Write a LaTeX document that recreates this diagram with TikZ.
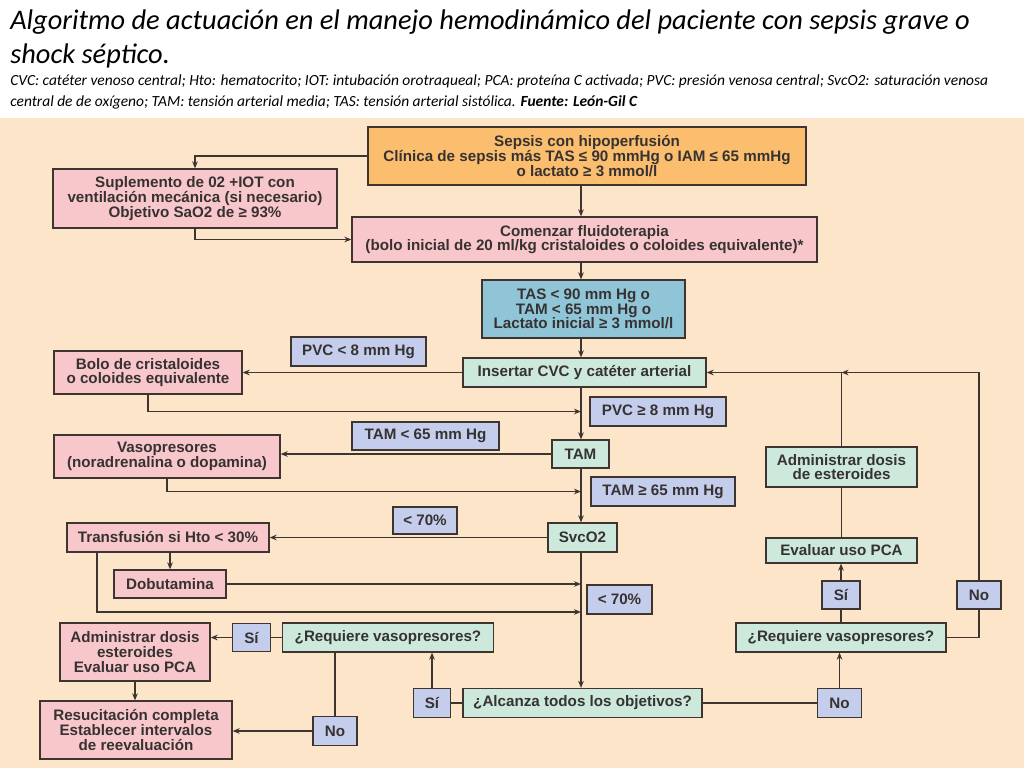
\documentclass[tikz,border=0pt]{standalone}
\usepackage{fontspec}
\setmainfont{Liberation Sans}
\newfontfamily\titlefont{Carlito}
\usepackage{tikz}
\usetikzlibrary{arrows.meta, positioning}
\definecolor{bgpeach}{RGB}{253,229,202}
\definecolor{sepsisorange}{RGB}{251,190,110}
\definecolor{pinkfill}{RGB}{248,199,204}
\definecolor{tasblue}{RGB}{143,197,214}
\definecolor{tagfill}{RGB}{197,205,236}
\definecolor{mintfill}{RGB}{204,233,220}
\definecolor{boxline}{RGB}{62,52,48}
\definecolor{boxtext}{RGB}{55,50,50}
\newcommand\boxfont{\fontsize{10.8}{10.4}\selectfont\bfseries}

\begin{document}
\begin{tikzpicture}[
  x=0.025cm, y=-0.025cm,
  box/.style={
    rectangle, draw=boxline, line width=0.9pt,
    text=boxtext, font=\boxfont, align=center, inner sep=0pt
  },
  dims/.style 2 args={minimum width=#1*0.025cm, minimum height=#2*0.025cm},
  pinkbox/.style={box, fill=pinkfill},
  mintbox/.style={box, fill=mintfill},
  tagbox/.style={box, fill=tagfill},
  arrow/.style={-{Stealth[length=5pt,width=4pt]}, line width=0.9pt, boxline},
  link/.style={line width=0.9pt, boxline},
  heading/.style={anchor=base west, inner sep=0pt, text=black}
]
\useasboundingbox (0,0) rectangle (1024,768);
\fill[white] (0,0) rectangle (1024,768);
\fill[bgpeach] (0,118) rectangle (1024,768);

% title and abbreviations
\node[heading, font={\titlefont\fontsize{20.2}{24}\selectfont\itshape}] (title1) at (10,30)
  {Algoritmo de actuación en el manejo hemodinámico del paciente con sepsis grave o};
\node[heading, font={\titlefont\fontsize{20.2}{24}\selectfont\itshape}] (title2) at (10,64)
  {shock séptico.};
\node[heading, font={\titlefont\fontsize{11}{14}\selectfont\itshape}] (abbr1) at (10,86)
  {CVC: catéter venoso central; Hto: hematocrito; IOT: intubación orotraqueal; PCA: proteína C activada; PVC: presión venosa central; SvcO2: saturación venosa};
\node[heading, font={\titlefont\fontsize{11}{14}\selectfont\itshape}] (abbr2) at (10,107)
  {central de de oxígeno; TAM: tensión arterial media; TAS: tensión arterial sistólica. \textbf{Fuente: León-Gil C}};

% main column
\coordinate (spine) at (581,0);
\node[box, fill=sepsisorange, dims={438}{58}] (sepsis) at (587,156)
  {Sepsis con hipoperfusión\\
   Clínica de sepsis más TAS ≤ 90 mmHg o IAM ≤ 65 mmHg\\
   o lactato ≥ 3 mmol/l};
\node[pinkbox, dims={284}{59}] (suplemento) at (195,198.5)
  {Suplemento de 02 +IOT con\\
   ventilación mecánica (si necesario)\\
   Objetivo SaO2 de ≥ 93\%};
\node[pinkbox, dims={465}{45}] (comenzar) at (584.5,239.5)
  {Comenzar fluidoterapia\\
   (bolo inicial de 20 ml/kg cristaloides o coloides equivalente)*};
\node[box, fill=tasblue, dims={203}{58}] (tas) at (583.5,309)
  {TAS < 90 mm Hg o\\ TAM < 65 mm Hg o\\ Lactato inicial ≥ 3 mmol/l};
\node[mintbox, dims={243}{29}] (insertar) at (584.5,372.5) {Insertar CVC y catéter arterial};
\node[mintbox, dims={57}{28}] (tam) at (580.5,454) {TAM};
\node[mintbox, dims={69}{29}] (svco2) at (582.5,537.5) {SvcO2};
\node[mintbox, dims={239}{29}] (alcanza) at (582.5,703) {¿Alcanza todos los objetivos?};

% left branch
\node[pinkbox, dims={188}{43}] (bolo) at (148,372.5) {Bolo de cristaloides\\ o coloides equivalente};
\node[pinkbox, dims={226}{43}] (vaso) at (167,456.5) {Vasopresores\\ (noradrenalina o dopamina)};
\node[pinkbox, dims={202}{29}] (transf) at (168,537.5) {Transfusión si Hto < 30\%};
\node[pinkbox, dims={112}{28}] (dobu) at (170,584) {Dobutamina};
\node[pinkbox, dims={150}{58}] (admL) at (135,652) {Administrar dosis\\ esteroides\\ Evaluar uso PCA};
\node[pinkbox, dims={192}{58}] (resuc) at (136,730) {Resucitación completa\\ Establecer intervalos\\ de reevaluación};
\node[mintbox, dims={211}{29}] (reqL) at (388,637.5) {¿Requiere vasopresores?};

% condition tags
\node[tagbox, dims={135}{29}] (pvclow) at (358.5,351.5) {PVC < 8 mm Hg};
\node[tagbox, dims={136}{29}] (pvchigh) at (658,411.5) {PVC ≥ 8 mm Hg};
\node[tagbox, dims={147}{28}] (tamlow) at (425.5,436) {TAM < 65 mm Hg};
\node[tagbox, dims={144}{29}] (tamhigh) at (663,491.5) {TAM ≥ 65 mm Hg};
\node[tagbox, dims={64}{27}] (satlow) at (425,520.5) {< 70\%};
\node[tagbox, dims={65}{29}] (satlowB) at (619.5,599.5) {< 70\%};
\node[tagbox, dims={38}{28}] (siL) at (251.5,637.5) {Sí};
\node[tagbox, dims={37}{29}] (siB) at (432,703) {Sí};
\node[tagbox, dims={44}{29}] (noL) at (335,731) {No};
\node[tagbox, dims={44}{29}] (noB) at (839.5,703) {No};
\node[tagbox, dims={38}{28}] (siR) at (841,595) {Sí};
\node[tagbox, dims={44}{28}] (noR) at (979,595) {No};

% right branch
\node[mintbox, dims={151}{40}] (admR) at (841.5,467) {Administrar dosis\\ de esteroides};
\node[mintbox, dims={151}{25}] (evalR) at (841.5,550.5) {Evaluar uso PCA};
\node[mintbox, dims={210}{29}] (reqR) at (841,637.5) {¿Requiere vasopresores?};

% connectors
\foreach \from/\to in {sepsis/comenzar,comenzar/tas,tas/insertar,insertar/tam,tam/svco2,svco2/alcanza}
  \draw[arrow] (\from.south -| spine) -- (\to.north -| spine);

\draw[arrow] (sepsis.west) -| (suplemento.north);
\draw[arrow] (suplemento.south) |- (comenzar.west);

\draw[arrow] (insertar.west) -- (bolo.east);
\draw[arrow] (bolo.south) |- (pvchigh.west -| spine);
\draw[arrow] (tam.west) -- (tam.west -| vaso.east);
\draw[arrow] (vaso.south) |- (tamhigh.west -| spine);
\draw[arrow] (svco2.west) -- (transf.east);
\draw[arrow] (dobu.north |- transf.south) -- (dobu.north);
\draw[arrow] (dobu.east) -- (dobu.east -| spine);
\coordinate (loopT) at (97,612);
\draw[arrow] (transf.south -| loopT) -- (loopT) -- (loopT -| spine);

\draw[link] (alcanza.west) -- (siB.east);
\draw[arrow] (siB.north) -- (siB.north |- reqL.south);
\draw[link] (reqL.west) -- (siL.east);
\draw[arrow] (siL.west) -- (siL.west -| admL.east);
\draw[link] (noL.north |- reqL.south) -- (noL.north);
\draw[arrow] (noL.west) -- (noL.west -| resuc.east);
\draw[arrow] (admL.south) -- (admL.south |- resuc.north);

\draw[link] (alcanza.east) -- (noB.west);
\draw[arrow] (noB.north) -- (noB.north |- reqR.south);
\draw[link] (reqR.north) -- (siR.south);
\draw[arrow] (siR.north) -- (siR.north |- evalR.south);
\draw[link] (evalR.north) -- (admR.south);
\draw[arrow] (admR.north) |- (insertar.east);
\draw[link] (reqR.east) -| (noR.south);
\draw[arrow] (noR.north) |- (admR.north |- insertar.east);
\end{tikzpicture}
\end{document}
